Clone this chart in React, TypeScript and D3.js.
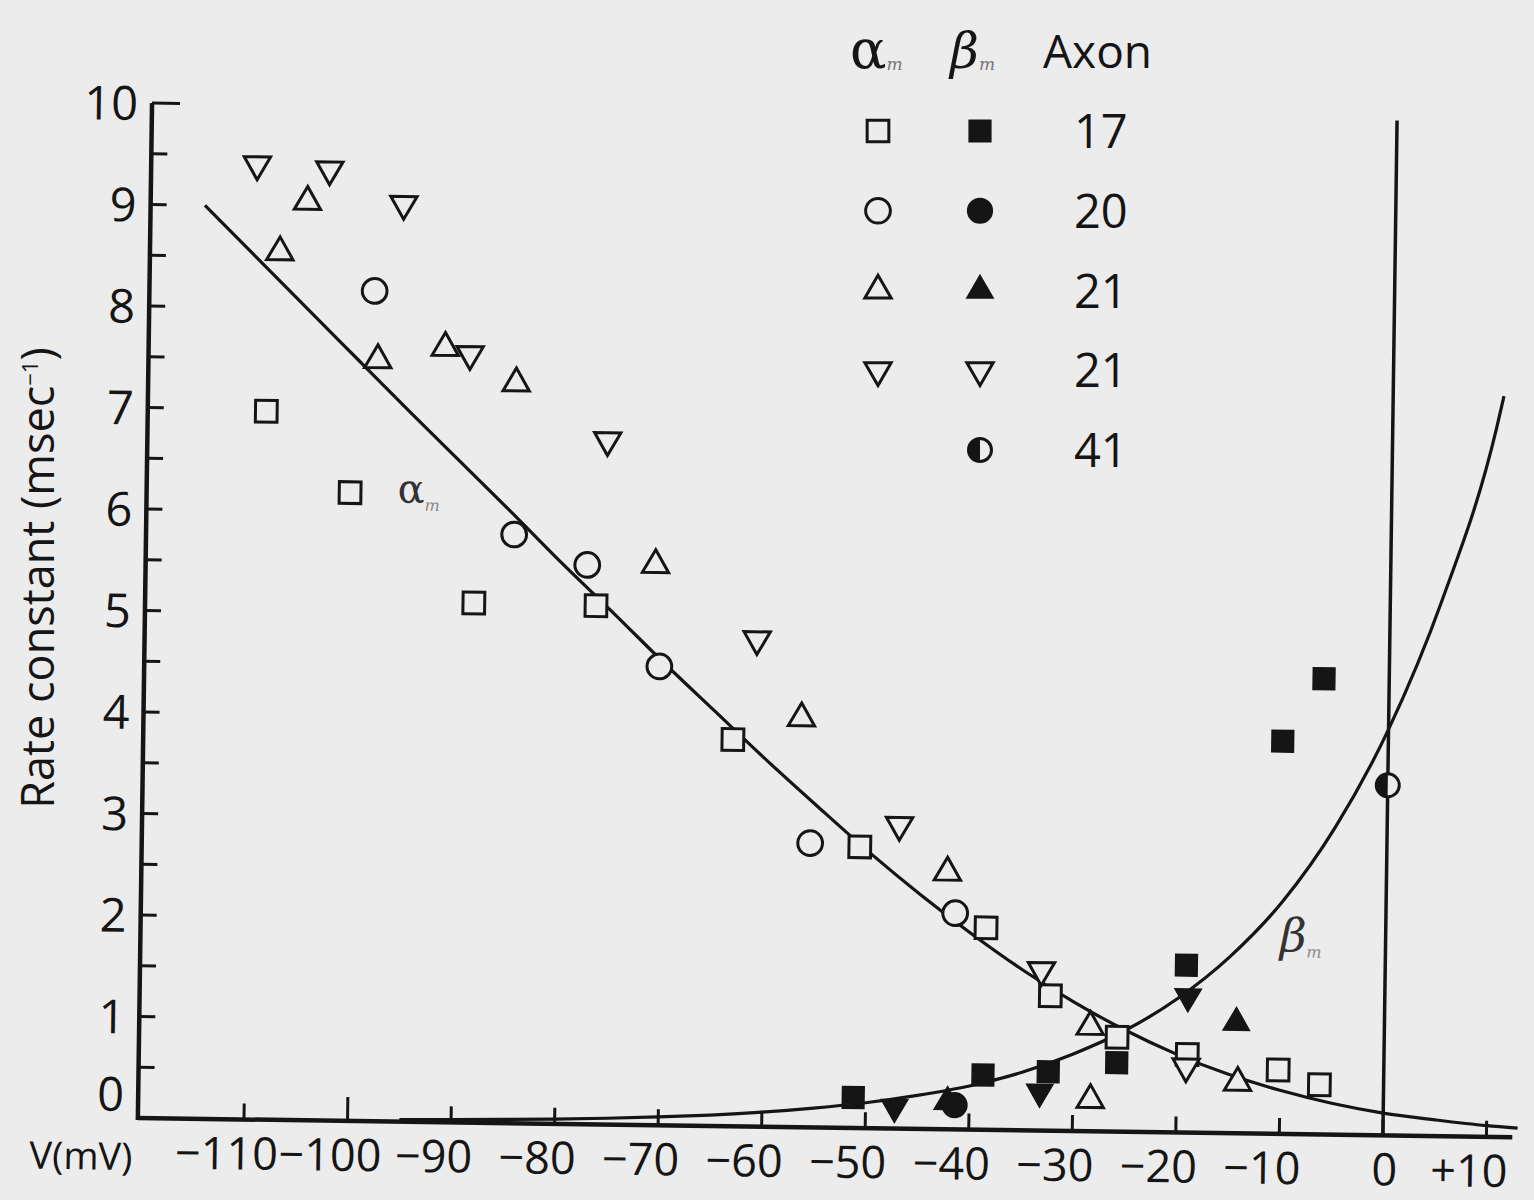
import React, { useEffect, useRef } from "react";
import * as d3 from "d3";

// alpha_m, open symbols (V in mV, rate in 1/msec)
const alphaSq17V = [-108.8, -100.6, -88.5, -76.7, -63.3, -50.9, -38.6, -32.3, -25.8, -19.0, -10.2, -6.2];
const alphaSq17R = [6.98, 6.19, 5.12, 5.11, 3.81, 2.77, 1.99, 1.33, 0.93, 0.77, 0.63, 0.49];
const alphaCi20V = [-98.5, -84.7, -77.6, -70.5, -55.7, -41.6];
const alphaCi20R = [8.18, 5.8, 5.51, 4.52, 2.8, 2.13];
const alphaUp21V = [-107.7, -105.1, -98.1, -91.6, -84.7, -71.0, -56.7, -42.4, -28.4, -28.3, -14.1];
const alphaUp21R = [8.55, 9.05, 7.5, 7.63, 7.29, 5.52, 4.03, 2.53, 1.03, 0.31, 0.5];
const alphaDn21V = [-110.0, -103.0, -95.8, -89.2, -75.8, -61.1, -47.1, -33.2, -19.1];
const alphaDn21R = [9.41, 9.37, 9.04, 7.57, 6.74, 4.8, 2.99, 1.58, 0.65];

// beta_m, filled symbols
const betaSq17V = [-51.2, -38.7, -32.4, -25.8, -19.2, -10.2, -6.3];
const betaSq17R = [0.3, 0.54, 0.58, 0.68, 1.65, 3.87, 4.49];
const betaCi20V = [-41.4];
const betaCi20R = [0.24];
const betaUp21V = [-42.1, -14.3];
const betaUp21R = [0.27, 1.09];
const betaDn21V = [-47.2, -33.2, -19.0];
const betaDn21R = [0.21, 0.38, 1.34];
const betaHalf41V = [0];
const betaHalf41R = [3.45];

// fitted curves
const alphaCurveV = [-115, -110, -105, -100, -95, -90, -85, -80, -75, -70, -65, -60, -55, -50, -45, -40, -35, -30, -25, -20, -15, -10, -5, 0, 5, 10, 13];
const alphaCurveR = [9.0, 8.5, 8.0, 7.5, 7.0, 6.51, 6.02, 5.52, 5.04, 4.55, 4.08, 3.61, 3.16, 2.72, 2.31, 1.93, 1.58, 1.27, 1.0, 0.77, 0.58, 0.43, 0.31, 0.22, 0.16, 0.11, 0.09];
const betaCurveV = [-95, -90, -85, -80, -75, -70, -65, -60, -55, -50, -45, -40, -35, -30, -25, -20, -15, -10, -5, 0, 5, 10, 10.7];
const betaCurveR = [0.02, 0.027, 0.036, 0.047, 0.062, 0.082, 0.108, 0.143, 0.19, 0.25, 0.33, 0.43, 0.57, 0.76, 1.0, 1.32, 1.74, 2.29, 3.03, 4.0, 5.28, 6.97, 7.3];

const xTicks = [-110, -100, -90, -80, -70, -60, -50, -40, -30, -20, -10, 0, 10];
const xTickLabels = ["−110", "−100", "−90", "−80", "−70", "−60", "−50", "−40", "−30", "−20", "−10", "0", "+10"];
const yTicks = [0, 1, 2, 3, 4, 5, 6, 7, 8, 9, 10];

const legendAxons = ["17", "20", "21", "21", "41"];
const legendAlphaShapes = ["square", "circle", "up", "down", ""];
const legendBetaShapes = ["square", "circle", "up", "down", "half"];
const legendBetaFilled = [true, true, true, false, true];

export default function App() {
  const ref = useRef<HTMLDivElement>(null);

  useEffect(() => {
    const width = 1534,
      height = 1200;
    const ink = "#151515";
    const paper = "#ececec";
    const sans = "'Open Sans', 'Noto Sans', sans-serif";
    const serif = "'DejaVu Serif', 'Liberation Serif', serif";

    d3.select(ref.current).selectAll("*").remove();
    const svg = d3
      .select(ref.current)
      .append("svg")
      .attr("width", width)
      .attr("height", height)
      .style("display", "block");

    svg.append("rect").attr("width", width).attr("height", height).attr("fill", paper);

    const x = d3.scaleLinear().domain([-110, 0]).range([244, 1383]);
    const y = d3.scaleLinear().domain([0, 10]).range([1118, 103]);
    const xLeft = x(-120.25);
    const xRight = x(12.5);

    // marker helper
    const marker = (g, shape, filled, cx, cy) => {
      if (shape === "half") {
        const r = 11.5;
        const m = g.append("g").attr("transform", `translate(${cx},${cy})`);
        m.append("circle").attr("r", r).attr("fill", paper).attr("stroke", ink).attr("stroke-width", 3);
        m.append("path")
          .attr("d", `M0,${-r} A${r},${r} 0 0 0 0,${r} Z`)
          .attr("fill", ink);
        return;
      }
      const type =
        shape === "square" ? d3.symbolSquare : shape === "circle" ? d3.symbolCircle : d3.symbolTriangle;
      const size = shape === "square" ? 470 : shape === "circle" ? 480 : 300;
      g.append("path")
        .attr("d", d3.symbol().type(type).size(size)())
        .attr("transform", `translate(${cx},${cy})${shape === "down" ? " rotate(180)" : ""}`)
        .attr("fill", filled ? ink : paper)
        .attr("stroke", ink)
        .attr("stroke-width", filled ? 1.5 : 3);
    };

    // the scanned figure is turned slightly clockwise
    const plot = svg.append("g").attr("transform", `rotate(0.8, ${xLeft}, ${y(0)})`);

    // Axes
    plot.append("line")
      .attr("x1", xLeft).attr("x2", xRight)
      .attr("y1", y(0)).attr("y2", y(0))
      .attr("stroke", ink).attr("stroke-width", 4.5);
    plot.append("line")
      .attr("x1", xLeft).attr("x2", xLeft)
      .attr("y1", y(0) + 2).attr("y2", y(10))
      .attr("stroke", ink).attr("stroke-width", 4.5);

    // Y ticks every 0.5
    d3.range(0.5, 10.01, 0.5).forEach((v) => {
      plot.append("line")
        .attr("x1", xLeft).attr("x2", xLeft + (v === 10 ? 28 : 16))
        .attr("y1", y(v)).attr("y2", y(v))
        .attr("stroke", ink).attr("stroke-width", 3);
    });

    // X ticks
    xTicks.forEach((v) => {
      plot.append("line")
        .attr("x1", x(v)).attr("x2", x(v))
        .attr("y1", y(0)).attr("y2", y(0) - (v === -100 ? 24 : 16))
        .attr("stroke", ink).attr("stroke-width", 3);
    });

    // Vertical line at 0 mV
    plot.append("line")
      .attr("x1", x(0)).attr("x2", x(0))
      .attr("y1", y(0)).attr("y2", y(10))
      .attr("stroke", ink).attr("stroke-width", 3.5);

    // Tick labels
    plot.selectAll(".xlab")
      .data(xTicks)
      .enter()
      .append("text")
      .attr("x", (d, i) => x(d) - (xTickLabels[i] === "0" ? -2 : 17))
      .attr("y", y(0) + 50)
      .attr("text-anchor", "middle")
      .style("font-family", sans)
      .style("font-size", "45px")
      .attr("fill", ink)
      .text((d, i) => xTickLabels[i]);

    plot.selectAll(".ylab")
      .data(yTicks)
      .enter()
      .append("text")
      .attr("x", xLeft - 14)
      .attr("y", (d) => (d === 0 ? y(0) - 7 : y(d) + 17))
      .attr("text-anchor", "end")
      .style("font-family", sans)
      .style("font-size", "47px")
      .attr("fill", ink)
      .text((d) => d);

    plot.append("text")
      .attr("x", 30)
      .attr("y", 1170)
      .style("font-family", sans)
      .style("font-size", "38px")
      .attr("fill", ink)
      .text("V(mV)");

    // Curves
    const line = d3
      .line<[number, number]>()
      .x((d) => x(d[0]))
      .y((d) => y(d[1]))
      .curve(d3.curveMonotoneX);

    plot.append("path")
      .attr("d", line(alphaCurveV.map((v, i) => [v, alphaCurveR[i]])))
      .attr("fill", "none").attr("stroke", ink).attr("stroke-width", 3.2);
    plot.append("path")
      .attr("d", line(betaCurveV.map((v, i) => [v, betaCurveR[i]])))
      .attr("fill", "none").attr("stroke", ink).attr("stroke-width", 3.2);

    // Points
    const series = [
      { V: alphaSq17V, R: alphaSq17R, shape: "square", filled: false },
      { V: alphaCi20V, R: alphaCi20R, shape: "circle", filled: false },
      { V: alphaUp21V, R: alphaUp21R, shape: "up", filled: false },
      { V: alphaDn21V, R: alphaDn21R, shape: "down", filled: false },
      { V: betaSq17V, R: betaSq17R, shape: "square", filled: true },
      { V: betaCi20V, R: betaCi20R, shape: "circle", filled: true },
      { V: betaUp21V, R: betaUp21R, shape: "up", filled: true },
      { V: betaDn21V, R: betaDn21R, shape: "down", filled: true },
      { V: betaHalf41V, R: betaHalf41R, shape: "half", filled: true },
    ];
    series.forEach((s) => {
      s.V.forEach((v, i) => marker(plot, s.shape, s.filled, x(v), y(s.R[i])));
    });

    // Curve labels
    const alphaLab = plot.append("text")
      .attr("x", x(-96)).attr("y", y(6.1))
      .style("font-family", serif).style("font-size", "40px")
      .attr("fill", "#333");
    alphaLab.append("tspan").text("α");
    alphaLab.append("tspan").attr("dy", 8).style("font-size", "16px").style("font-style", "italic").attr("fill", "#888").text("m");

    const betaLab = plot.append("text")
      .attr("x", x(-10.2)).attr("y", y(1.8))
      .style("font-family", serif).style("font-size", "46px").style("font-style", "italic")
      .attr("fill", "#333");
    betaLab.append("tspan").text("β");
    betaLab.append("tspan").attr("dy", 6).style("font-size", "16px").attr("fill", "#888").text("m");

    // Y axis title
    const yt = svg.append("text")
      .attr("transform", "translate(54,578) rotate(-90)")
      .attr("text-anchor", "middle")
      .style("font-family", sans)
      .style("font-size", "45px")
      .attr("fill", ink);
    yt.append("tspan").text("Rate constant (msec");
    yt.append("tspan").attr("dy", -16).style("font-size", "22px").text("−1");
    yt.append("tspan").attr("dy", 16).text(")");

    // Legend
    const lg = svg.append("g");
    const ha = lg.append("text").attr("x", 850).attr("y", 68)
      .style("font-family", serif).style("font-size", "54px").attr("fill", ink);
    ha.append("tspan").text("α");
    ha.append("tspan").attr("dy", 2).style("font-size", "17px").style("font-style", "italic").attr("fill", "#777").text("m");
    const hb = lg.append("text").attr("x", 950).attr("y", 68)
      .style("font-family", serif).style("font-size", "50px").style("font-style", "italic").attr("fill", ink);
    hb.append("tspan").text("β");
    hb.append("tspan").attr("dy", 2).style("font-size", "17px").attr("fill", "#777").text("m");
    lg.append("text").attr("x", 1043).attr("y", 68)
      .style("font-family", sans).style("font-size", "46px").attr("fill", ink).text("Axon");

    const rowY = d3.scalePoint().domain(d3.range(legendAxons.length).map(String)).range([131, 450]);
    legendAxons.forEach((a, i) => {
      const cy = rowY(String(i));
      if (legendAlphaShapes[i]) marker(lg, legendAlphaShapes[i], false, 878, cy);
      marker(lg, legendBetaShapes[i], legendBetaFilled[i], 980, cy);
      lg.append("text").attr("x", 1074).attr("y", cy + 17)
        .style("font-family", sans).style("font-size", "47px").attr("fill", ink).text(a);
    });
  }, []);

  return <div ref={ref} style={{ position: "absolute", left: 0, top: 0 }} />;
}
